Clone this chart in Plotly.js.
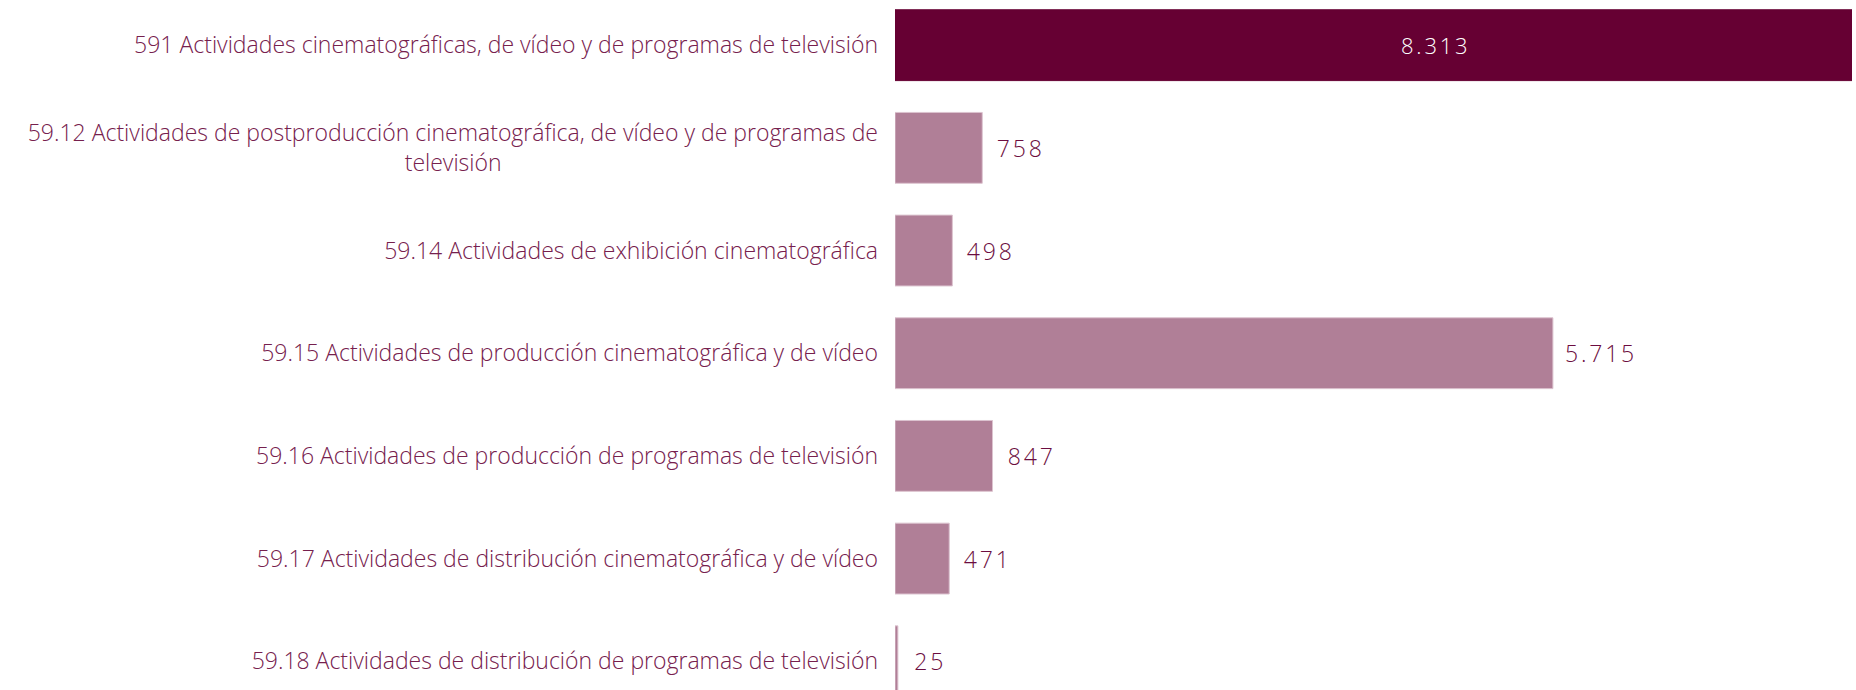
<!DOCTYPE html>
<html>
<head>
<meta charset="utf-8">
<script src="https://cdn.plot.ly/plotly-3.0.1.min.js"></script>
<style>
  html, body { margin: 0; padding: 0; background: #fff; }
  #chart { width: 1856px; height: 690px; }
  #chart .annotation-text { letter-spacing: 2.8px; }
</style>
</head>
<body>
<div id="chart"></div>
<script>
// activities (CNAE 59), top to bottom
const categories = [
  "591 Actividades cinematográficas, de vídeo y de programas de televisión",
  "59.12 Actividades de postproducción cinematográfica, de vídeo y de programas de<br>televisión",
  "59.14 Actividades de exhibición cinematográfica",
  "59.15 Actividades de producción cinematográfica y de vídeo",
  "59.16 Actividades de producción de programas de televisión",
  "59.17 Actividades de distribución cinematográfica y de vídeo",
  "59.18 Actividades de distribución de programas de televisión"
];
const values = [8313, 758, 498, 5715, 847, 471, 25];
const isTotal = [true, false, false, false, false, false, false];

const darkColor = "#660033";
const lightColor = "#b07f97";
const labelColor = "#76204d";
const valueColor = "#6c0d40";
const labelFont = "Open Sans, sans-serif";
const labelSize = 23;
const labelWeight = 300;

// spanish thousands separator: 8313 -> 8.313
function fmt(v) {
  return String(v).replace(/\B(?=(\d{3})+(?!\d))/g, ".");
}

// plotly right-aligns every line of a tick label; pad the short lines so they look centred
const ctx = document.createElement("canvas").getContext("2d");
ctx.font = labelWeight + " " + labelSize + "px " + labelFont;
function centreLines(label) {
  const lines = label.split("<br>");
  if (lines.length < 2) return label;
  const w = lines.map(l => ctx.measureText(l).width);
  const maxW = Math.max(...w);
  const nb = ctx.measureText("\u00a0").width;
  return lines.map((l, i) => l + "\u00a0".repeat(Math.round((maxW - w[i]) / 2 / nb))).join("<br>");
}

const trace = {
  type: "bar",
  orientation: "h",
  y: categories,
  x: values,
  marker: {
    color: isTotal.map(t => t ? darkColor : lightColor),
    line: { color: isTotal.map(t => t ? darkColor : "#dcc3cf"), width: 1 }
  },
  hoverinfo: "none"
};

// value labels: inside (white) for the total, to the right for the rest
const annotations = values.map((v, i) => isTotal[i] ? {
  x: v / 2, y: categories[i], xref: "x", yref: "y",
  text: fmt(v), showarrow: false, xanchor: "center", xshift: 62,
  font: { family: labelFont, size: 22, weight: 300, color: "#ffffff" }
} : {
  x: v, y: categories[i], xref: "x", yref: "y",
  text: fmt(v), showarrow: false, xanchor: "left", xshift: 17,
  font: { family: labelFont, size: 23, weight: 300, color: valueColor }
});

const layout = {
  width: 1856,
  height: 690,
  margin: { l: 895, r: 4, t: 0, b: 0 },
  bargap: 0.31,
  showlegend: false,
  paper_bgcolor: "#ffffff",
  plot_bgcolor: "#ffffff",
  xaxis: {
    range: [0, Math.max(...values)],
    showgrid: false, zeroline: false, showticklabels: false, showline: false
  },
  yaxis: {
    range: [6.28, -0.44],
    showgrid: false, zeroline: false, showline: false,
    ticks: "", ticklabelstandoff: 16,
    tickmode: "array",
    tickvals: categories,
    ticktext: categories.map(centreLines),
    tickfont: { family: labelFont, size: labelSize, weight: labelWeight, color: labelColor }
  },
  annotations: annotations
};

Plotly.newPlot("chart", [trace], layout, { displayModeBar: false, staticPlot: true });
</script>
</body>
</html>
